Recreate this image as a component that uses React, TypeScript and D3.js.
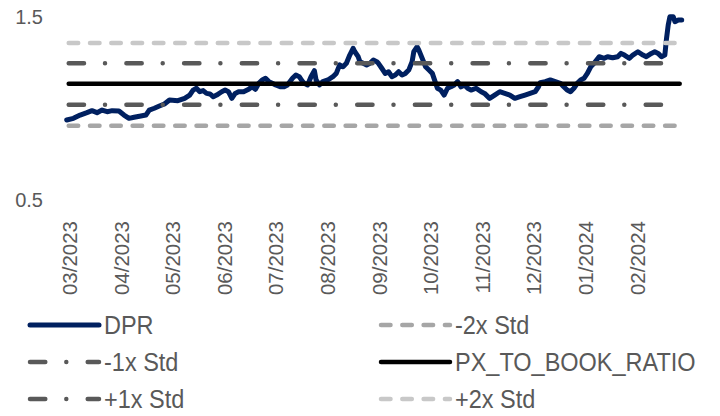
import React from "react";
import * as d3 from "d3";

const dates = [
  "2023-02-27","2023-03-03","2023-03-07","2023-03-11","2023-03-14","2023-03-17","2023-03-20","2023-03-23","2023-03-26","2023-03-30",
  "2023-04-02","2023-04-05","2023-04-08","2023-04-12","2023-04-15","2023-04-17","2023-04-20","2023-04-23","2023-04-26","2023-04-29",
  "2023-05-04","2023-05-08","2023-05-11","2023-05-13","2023-05-15","2023-05-17","2023-05-19","2023-05-21","2023-05-23","2023-05-25",
  "2023-05-27","2023-05-30","2023-06-01","2023-06-03","2023-06-05","2023-06-07","2023-06-09","2023-06-12","2023-06-15","2023-06-17",
  "2023-06-19","2023-06-21","2023-06-23","2023-06-25","2023-06-27","2023-06-29","2023-07-01","2023-07-04","2023-07-06","2023-07-08",
  "2023-07-11","2023-07-13","2023-07-15","2023-07-17","2023-07-18","2023-07-20","2023-07-22","2023-07-24","2023-07-25","2023-07-27",
  "2023-07-29","2023-08-01","2023-08-04","2023-08-06","2023-08-08","2023-08-10","2023-08-12","2023-08-14","2023-08-16","2023-08-17",
  "2023-08-19","2023-08-20","2023-08-22","2023-08-24","2023-08-26","2023-08-28","2023-08-30","2023-08-31","2023-09-02","2023-09-04",
  "2023-09-06","2023-09-08","2023-09-10","2023-09-12","2023-09-14","2023-09-16","2023-09-18","2023-09-20","2023-09-21","2023-09-23",
  "2023-09-24","2023-09-26","2023-09-28","2023-09-30","2023-10-02","2023-10-03","2023-10-05","2023-10-07","2023-10-09","2023-10-11",
  "2023-10-13","2023-10-15","2023-10-17","2023-10-19","2023-10-21","2023-10-23","2023-10-25","2023-10-28","2023-10-31","2023-11-02",
  "2023-11-05","2023-11-08","2023-11-11","2023-11-14","2023-11-17","2023-11-20","2023-11-23","2023-11-26","2023-11-29","2023-12-02",
  "2023-12-04","2023-12-05","2023-12-08","2023-12-11","2023-12-14","2023-12-17","2023-12-19","2023-12-21","2023-12-23","2023-12-25",
  "2023-12-27","2023-12-29","2023-12-31","2024-01-02","2024-01-04","2024-01-06","2024-01-09","2024-01-12","2024-01-14","2024-01-17",
  "2024-01-20","2024-01-22","2024-01-24","2024-01-27","2024-01-29","2024-02-01","2024-02-04","2024-02-06","2024-02-09","2024-02-11",
  "2024-02-13","2024-02-15","2024-02-17","2024-02-18","2024-02-19","2024-02-20","2024-02-22","2024-02-23","2024-02-25","2024-02-27"
];

const dprValues = [
  0.936,0.945,0.963,0.976,0.987,0.976,0.990,0.981,0.987,0.985,
  0.963,0.945,0.951,0.958,0.963,0.990,1.000,1.012,1.023,1.045,
  1.041,1.054,1.072,1.099,1.109,1.090,1.096,1.081,1.078,1.063,
  1.072,1.090,1.099,1.090,1.054,1.081,1.090,1.090,1.103,1.117,
  1.103,1.136,1.154,1.163,1.145,1.136,1.127,1.117,1.117,1.127,
  1.163,1.181,1.172,1.145,1.136,1.127,1.172,1.205,1.154,1.127,
  1.145,1.154,1.172,1.190,1.236,1.226,1.245,1.290,1.327,1.308,
  1.281,1.254,1.245,1.236,1.245,1.263,1.254,1.245,1.218,1.190,
  1.199,1.172,1.181,1.199,1.181,1.190,1.208,1.254,1.308,1.335,
  1.317,1.272,1.226,1.208,1.190,1.163,1.109,1.099,1.072,1.109,
  1.117,1.127,1.145,1.117,1.127,1.109,1.099,1.109,1.090,1.081,
  1.054,1.072,1.090,1.081,1.072,1.054,1.063,1.072,1.081,1.090,
  1.117,1.139,1.145,1.154,1.145,1.136,1.117,1.099,1.090,1.109,
  1.136,1.154,1.163,1.190,1.226,1.245,1.281,1.272,1.281,1.275,
  1.281,1.299,1.290,1.272,1.290,1.308,1.290,1.281,1.299,1.308,
  1.299,1.281,1.290,1.381,1.454,1.499,1.499,1.472,1.481,1.481
];

const bandNames = ["-2x Std", "-1x Std", "PX_TO_BOOK_RATIO", "+1x Std", "+2x Std"];
const bandValues = [0.904, 1.019, 1.133, 1.245, 1.356];

const yTicks = [0.5, 1.5];
const monthTicks = [
  "2023-03-01","2023-04-01","2023-05-01","2023-06-01","2023-07-01","2023-08-01",
  "2023-09-01","2023-10-01","2023-11-01","2023-12-01","2024-01-01","2024-02-01"
];

const legendOrder = ["DPR", "-2x Std", "-1x Std", "PX_TO_BOOK_RATIO", "+1x Std", "+2x Std"];

type Style = { stroke: string; width: number; dash?: string };
const seriesStyle: Record<string, Style> = {
  DPR: { stroke: "#002060", width: 5 },
  "-2x Std": { stroke: "#a6a6a6", width: 4.5, dash: "9.5 11.8" },
  "-1x Std": { stroke: "#595959", width: 4.5, dash: "15.3 21 0 21.4" },
  PX_TO_BOOK_RATIO: { stroke: "#000000", width: 4.5 },
  "+1x Std": { stroke: "#595959", width: 4.5, dash: "15.3 21 0 21.4" },
  "+2x Std": { stroke: "#c8c8c8", width: 4.5, dash: "9.5 11.8" },
};

const parse = d3.timeParse("%Y-%m-%d");
const fmt = d3.timeFormat("%m/%Y");
const FONT = "'Liberation Sans', Arial, sans-serif";
const TEXT = "#595959";

export default function App() {
  const W = 720, H = 416;
  const parsed = dates.map((d) => parse(d) as Date);
  const x = d3.scaleTime().domain([parsed[0], parsed[parsed.length - 1]]).range([66.7, 681.7]);
  const y = d3.scaleLinear().domain([0.5, 1.5]).range([200, 16.5]);

  const line = d3.line<number>()
    .x((_, i) => x(parsed[i]))
    .y((v) => y(v));
  const dprPath = line(dprValues) || "";

  const x0 = x(parsed[0]) + 2;
  const x1 = x(parsed[parsed.length - 1]) - 2;

  const legendRows = [325, 362, 399];
  const legendCols = [{ lx0: 30, lx1: 99, tx: 104 }, { lx0: 381, lx1: 450, tx: 455 }];

  return (
    <svg width={W} height={H} style={{ position: "absolute", left: 0, top: 0, background: "#fff" }}
      fontFamily={FONT}>
      {yTicks.map((t) => (
        <text key={t} x={43} y={y(t)} dy="0.35em" textAnchor="end" fontSize={20} fill={TEXT}>
          {d3.format(".1f")(t)}
        </text>
      ))}
      {monthTicks.map((m) => {
        const px = x(parse(m) as Date);
        return (
          <text key={m} transform={`translate(${px},221) rotate(-90)`} dy="0.35em" textAnchor="end"
            fontSize={20.5} fill={TEXT}>
            {fmt(parse(m) as Date)}
          </text>
        );
      })}
      <path d={dprPath} fill="none" stroke={seriesStyle.DPR.stroke} strokeWidth={seriesStyle.DPR.width}
        strokeLinejoin="round" strokeLinecap="round" />
      {bandNames.map((name, i) => {
        const s = seriesStyle[name];
        return (
          <line key={name} x1={x0} x2={x1} y1={y(bandValues[i])} y2={y(bandValues[i])}
            stroke={s.stroke} strokeWidth={s.width} strokeDasharray={s.dash}
            strokeLinecap="round" />
        );
      })}
      {legendOrder.map((name, i) => {
        const row = Math.floor(i / 2);
        const col = legendCols[i % 2];
        const yy = legendRows[row];
        const s = seriesStyle[name];
        return (
          <g key={name}>
            <line x1={col.lx0} x2={col.lx1} y1={yy} y2={yy} stroke={s.stroke}
              strokeWidth={s.width} strokeDasharray={s.dash} strokeLinecap="round" />
            <text x={col.tx} y={yy} dy="0.36em" fontSize={25} fill={TEXT}
              transform={`translate(${col.tx},0) scale(0.94,1) translate(${-col.tx},0)`}>{name}</text>
          </g>
        );
      })}
    </svg>
  );
}
